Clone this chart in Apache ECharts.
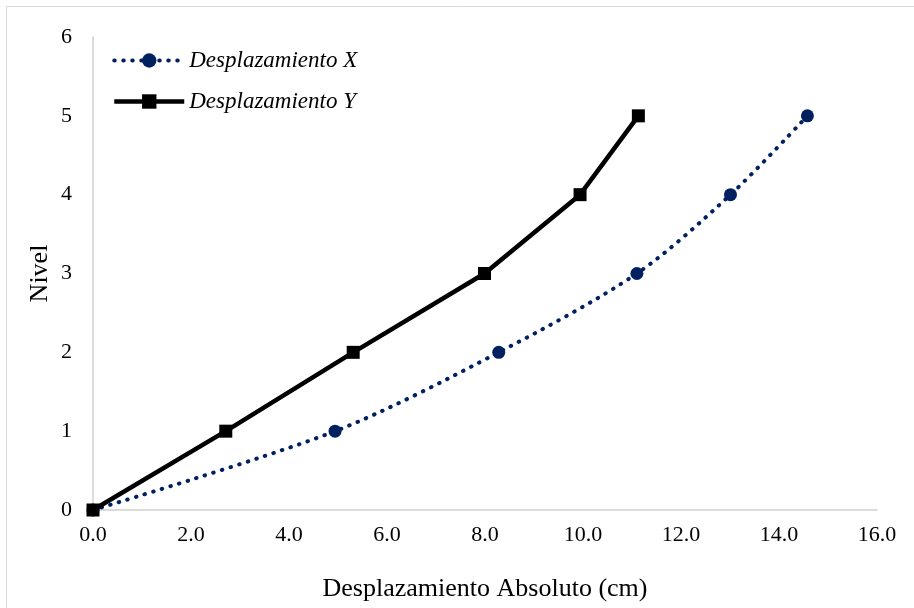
<!DOCTYPE html>
<html>
<head>
<meta charset="utf-8">
<script src="https://cdn.jsdelivr.net/npm/echarts@6/dist/echarts.min.js"></script>
<style>
  html, body { margin: 0; padding: 0; background: #fff; }
  #chart { width: 914px; height: 608px; }
</style>
</head>
<body>
<div id="chart"></div>
<script>
// Storey levels and absolute displacement per direction (cm)
const niveles = [0, 1, 2, 3, 4, 5];
const desplazamientoX = [0, 4.94, 8.28, 11.10, 13.01, 14.58];
const desplazamientoY = [0, 2.71, 5.31, 7.99, 9.94, 11.13];

const serieX = desplazamientoX.map((d, i) => [d, niveles[i]]);
const serieY = desplazamientoY.map((d, i) => [d, niveles[i]]);

const font = 'Liberation Serif, Times New Roman, serif';
const chart = echarts.init(document.getElementById('chart'));

chart.setOption({
  backgroundColor: '#fff',
  animation: false,
  graphic: [{
    type: 'rect',
    shape: { x: 6.5, y: 6.5, width: 920, height: 620 },
    style: { fill: 'none', stroke: '#d9d9d9', lineWidth: 1 },
    silent: true
  }],
  grid: { left: 93, right: 37, top: 37, bottom: 98 },
  legend: {
    left: 107, top: 44, orient: 'vertical', itemGap: 18,
    itemWidth: 70, itemHeight: 18,
    textStyle: { fontFamily: font, fontSize: 23, fontStyle: 'italic', color: '#000' },
    data: [
      { name: 'Desplazamiento X',
        lineStyle: { width: 4, type: [0.5, 8.5], cap: 'round', color: '#002060' } },
      { name: 'Desplazamiento Y',
        lineStyle: { width: 4.5, color: '#000' } }
    ]
  },
  xAxis: {
    type: 'value', min: 0, max: 16, interval: 2,
    name: 'Desplazamiento Absoluto (cm)', nameLocation: 'middle', nameGap: 66,
    nameMoveOverlap: false,
    nameTextStyle: { fontFamily: font, fontSize: 26, color: '#000' },
    axisLine: { show: true, lineStyle: { color: '#d0d0d0', width: 1.5 } },
    axisTick: { show: false },
    splitLine: { show: false },
    axisLabel: { fontFamily: font, fontSize: 22, color: '#000', margin: 14,
      formatter: v => v.toFixed(1) }
  },
  yAxis: {
    type: 'value', min: 0, max: 6, interval: 1,
    name: 'Nivel', nameLocation: 'middle', nameGap: 40,
    nameMoveOverlap: false,
    nameTextStyle: { fontFamily: font, fontSize: 26, color: '#000' },
    axisLine: { show: true, lineStyle: { color: '#d0d0d0', width: 1.5 } },
    axisTick: { show: false },
    splitLine: { show: false },
    axisLabel: { fontFamily: font, fontSize: 22, color: '#000', margin: 21 }
  },
  series: [
    {
      name: 'Desplazamiento X', type: 'line', data: serieX,
      smooth: 0.3,
      symbol: 'circle', symbolSize: 13,
      itemStyle: { color: '#002060' },
      lineStyle: { color: '#002060', width: 4, type: [0.5, 8.5], cap: 'round' }
    },
    {
      name: 'Desplazamiento Y', type: 'line', data: serieY,
      symbol: 'rect', symbolSize: 13,
      itemStyle: { color: '#000' },
      lineStyle: { color: '#000', width: 4.5 }
    }
  ]
});
</script>
</body>
</html>
